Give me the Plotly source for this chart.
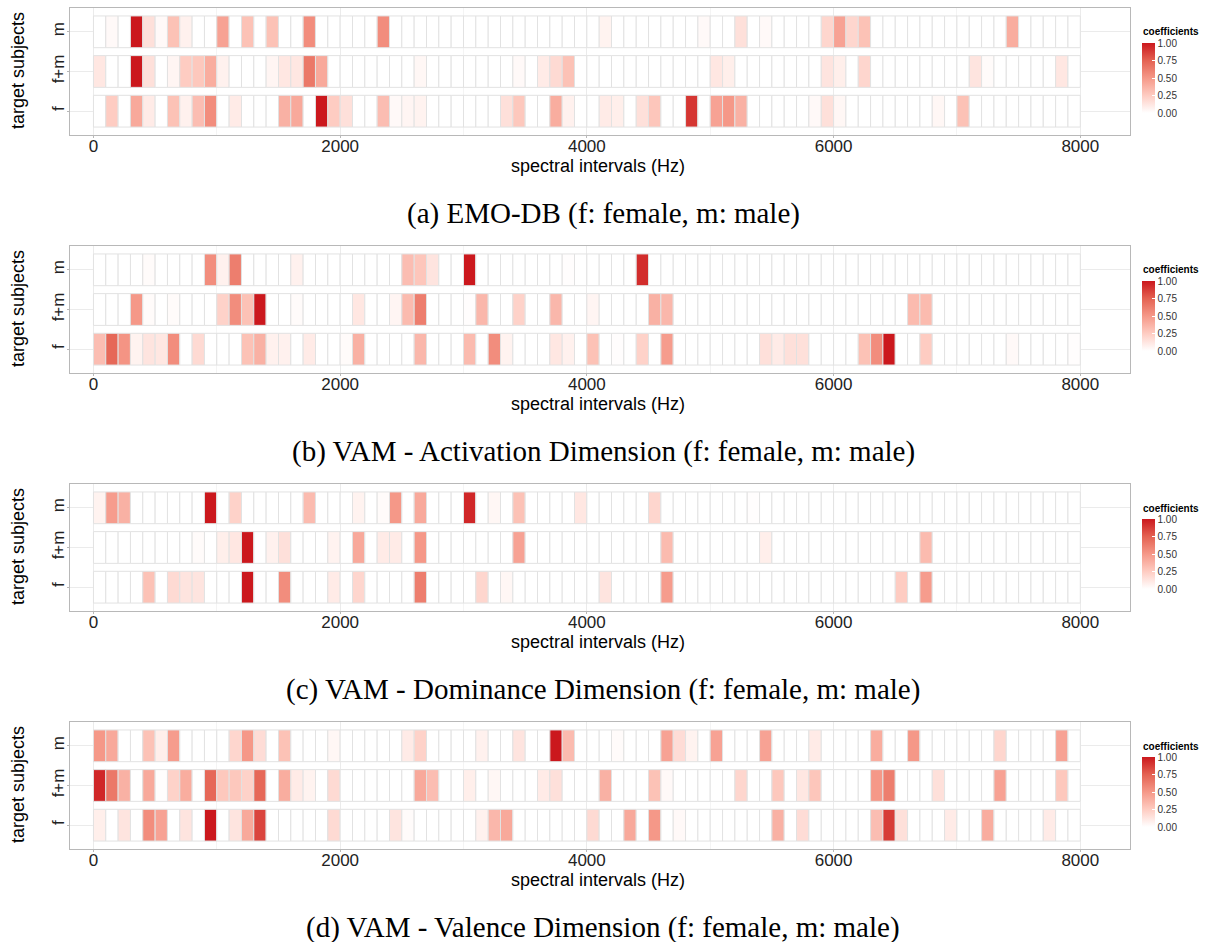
import plotly.graph_objects as go

W, H = 1207, 942

# spectral bins (centres, Hz) and target subject rows
bin_centres = [50 + 100 * k for k in range(80)]
row_labels = ["f", "f+m", "m"]
x_ticks = [0, 2000, 4000, 6000, 8000]
legend_ticks = [0.0, 0.25, 0.5, 0.75, 1.0]

# ---------------- (a) EMO-DB ----------------
A_m = [0, 0.03, 0, 1.0, 0.15, 0.03, 0.3, 0.07, 0, 0, 0.45, 0, 0.3, 0, 0.3, 0, 0, 0.55, 0, 0,
       0, 0, 0, 0.55, 0, 0, 0, 0, 0, 0, 0, 0, 0, 0, 0, 0, 0, 0, 0, 0,
       0, 0.06, 0, 0, 0, 0, 0, 0, 0, 0.03, 0, 0, 0.15, 0, 0.03, 0, 0, 0, 0, 0.2,
       0.45, 0.2, 0.3, 0, 0, 0, 0, 0, 0, 0, 0, 0, 0, 0, 0.4, 0, 0, 0, 0, 0]
A_fm = [0.12, 0, 0, 1.0, 0.15, 0, 0.05, 0.25, 0.27, 0.4, 0.07, 0, 0, 0, 0.05, 0.12, 0.12, 0.65, 0.42, 0,
        0, 0, 0, 0, 0, 0, 0.04, 0, 0, 0, 0, 0, 0, 0, 0.03, 0, 0.1, 0.18, 0.3, 0,
        0, 0, 0, 0, 0, 0, 0, 0, 0, 0, 0.12, 0.08, 0, 0, 0, 0, 0, 0, 0, 0.13,
        0.08, 0, 0.2, 0, 0, 0, 0, 0, 0, 0, 0, 0.13, 0.02, 0, 0, 0, 0, 0, 0.12, 0]
A_f = [0, 0.25, 0, 0.42, 0.1, 0, 0.3, 0.07, 0.32, 0.55, 0, 0.1, 0, 0, 0, 0.38, 0.42, 0, 1.0, 0.25,
       0.15, 0, 0, 0.32, 0.03, 0.05, 0.06, 0, 0, 0, 0, 0, 0, 0.15, 0.27, 0, 0, 0.4, 0.07, 0,
       0, 0.1, 0.08, 0, 0.15, 0.28, 0, 0, 0.9, 0, 0.45, 0.5, 0.38, 0, 0, 0, 0, 0, 0.03, 0.15,
       0.04, 0, 0, 0, 0, 0, 0, 0, 0.04, 0, 0.3, 0, 0, 0, 0, 0, 0, 0, 0, 0]

# ---------------- (b) VAM Activation ----------------
B_m = [0, 0, 0, 0, 0.02, 0, 0, 0, 0, 0.55, 0.07, 0.62, 0, 0, 0, 0, 0.07, 0, 0, 0,
       0, 0, 0, 0, 0, 0.32, 0.28, 0.13, 0, 0, 1.0, 0, 0, 0, 0, 0, 0, 0, 0.01, 0,
       0, 0, 0, 0, 0.93, 0, 0, 0, 0, 0, 0, 0, 0, 0, 0, 0, 0, 0, 0, 0,
       0, 0, 0, 0, 0, 0, 0, 0, 0, 0, 0, 0, 0, 0, 0, 0, 0, 0, 0, 0]
B_fm = [0, 0, 0, 0.5, 0.02, 0, 0.02, 0, 0, 0, 0.22, 0.55, 0.3, 1.0, 0, 0, 0.02, 0, 0, 0,
        0, 0.12, 0, 0, 0.05, 0.33, 0.62, 0, 0, 0, 0.01, 0.35, 0, 0, 0.22, 0, 0, 0.35, 0, 0,
        0.05, 0, 0, 0, 0, 0.38, 0.35, 0, 0, 0, 0, 0, 0, 0, 0, 0, 0, 0, 0, 0,
        0, 0, 0, 0, 0, 0, 0.33, 0.33, 0, 0, 0, 0, 0, 0, 0, 0, 0, 0, 0, 0]
B_f = [0.32, 0.72, 0.52, 0.06, 0.13, 0.12, 0.55, 0, 0.18, 0, 0, 0, 0.3, 0.38, 0.07, 0.07, 0, 0.1, 0, 0,
       0.02, 0.38, 0, 0, 0, 0, 0.35, 0, 0, 0, 0.33, 0, 0.55, 0.06, 0, 0, 0, 0.12, 0.07, 0,
       0.3, 0, 0.01, 0, 0.22, 0, 0.48, 0, 0, 0, 0, 0, 0, 0, 0.15, 0.1, 0.15, 0.15, 0, 0,
       0, 0, 0.3, 0.55, 1.0, 0, 0, 0.25, 0, 0, 0, 0, 0, 0, 0.03, 0, 0, 0, 0, 0.01]

# ---------------- (c) VAM Dominance ----------------
C_m = [0.06, 0.48, 0.38, 0, 0, 0, 0, 0, 0, 1.0, 0, 0.22, 0, 0, 0, 0, 0, 0.33, 0, 0,
       0, 0.06, 0, 0.02, 0.5, 0, 0.42, 0, 0, 0, 0.95, 0, 0.04, 0, 0.3, 0, 0, 0, 0, 0.12,
       0, 0, 0, 0, 0, 0.2, 0, 0, 0, 0, 0, 0, 0, 0.01, 0, 0, 0, 0, 0, 0,
       0, 0, 0, 0, 0, 0, 0, 0, 0, 0, 0, 0, 0, 0, 0, 0, 0, 0, 0, 0]
C_fm = [0, 0, 0, 0, 0, 0, 0, 0, 0.02, 0, 0.08, 0.12, 1.0, 0, 0.07, 0.15, 0, 0, 0, 0.06,
        0, 0.42, 0, 0.1, 0.1, 0, 0.5, 0, 0, 0, 0, 0, 0, 0, 0.45, 0, 0, 0, 0, 0,
        0, 0, 0, 0, 0, 0, 0.33, 0, 0, 0, 0, 0, 0, 0, 0.08, 0, 0, 0, 0, 0,
        0, 0, 0, 0, 0, 0, 0, 0.33, 0, 0, 0, 0, 0, 0, 0, 0, 0, 0, 0, 0]
C_f = [0, 0, 0, 0, 0.3, 0, 0.18, 0.13, 0.13, 0, 0, 0, 1.0, 0, 0, 0.55, 0, 0, 0, 0.1,
       0, 0.2, 0, 0, 0, 0, 0.62, 0, 0, 0, 0, 0.2, 0, 0.04, 0, 0, 0, 0, 0, 0,
       0, 0.13, 0, 0, 0, 0, 0.48, 0, 0, 0, 0, 0, 0, 0, 0, 0, 0, 0, 0, 0,
       0, 0, 0, 0, 0, 0.25, 0, 0.48, 0, 0, 0, 0, 0, 0, 0, 0, 0, 0, 0, 0]

# ---------------- (d) VAM Valence ----------------
D_m = [0.5, 0.42, 0, 0, 0.3, 0.08, 0.48, 0, 0, 0, 0, 0.2, 0.5, 0.17, 0, 0.3, 0, 0, 0, 0.04,
       0, 0, 0, 0, 0, 0.1, 0.22, 0, 0, 0, 0, 0.07, 0, 0, 0.13, 0, 0, 1.0, 0.33, 0,
       0, 0, 0.02, 0, 0, 0, 0.45, 0.17, 0.06, 0, 0.45, 0, 0, 0, 0.45, 0, 0, 0, 0.1, 0,
       0, 0, 0, 0.4, 0, 0, 0.5, 0, 0, 0, 0, 0, 0, 0.2, 0, 0, 0, 0, 0.45, 0]
D_fm = [0.95, 0.65, 0.38, 0, 0.42, 0.01, 0.22, 0.4, 0, 0.72, 0.27, 0.27, 0.22, 0.72, 0, 0.4, 0.1, 0.06, 0, 0.18,
        0, 0, 0, 0, 0, 0, 0.42, 0.32, 0, 0, 0.08, 0, 0.04, 0, 0, 0, 0.1, 0.15, 0, 0,
        0, 0.38, 0, 0, 0, 0.3, 0.03, 0, 0, 0, 0, 0, 0.2, 0, 0, 0.27, 0, 0.12, 0.28, 0,
        0, 0, 0, 0.5, 0.62, 0, 0, 0, 0.15, 0, 0, 0, 0, 0.45, 0, 0, 0, 0, 0.27, 0]
D_f = [0.08, 0, 0.13, 0, 0.55, 0.45, 0, 0.13, 0, 1.0, 0, 0.13, 0.42, 0.85, 0, 0, 0, 0, 0, 0.18,
       0, 0, 0, 0, 0.13, 0.02, 0, 0, 0, 0, 0, 0.07, 0.35, 0.42, 0, 0, 0, 0, 0, 0,
       0.18, 0, 0, 0.42, 0, 0.5, 0, 0.03, 0, 0, 0, 0, 0, 0, 0, 0.38, 0, 0.17, 0, 0,
       0, 0, 0, 0.32, 0.88, 0.15, 0, 0, 0, 0.1, 0, 0, 0.4, 0, 0, 0, 0, 0.1, 0, 0]

captions = [
    "(a) EMO-DB (f: female, m: male)",
    "(b) VAM - Activation Dimension (f: female, m: male)",
    "(c) VAM - Dominance Dimension (f: female, m: male)",
    "(d) VAM - Valence Dimension (f: female, m: male)",
]
panels = [(A_f, A_fm, A_m), (B_f, B_fm, B_m), (C_f, C_fm, C_m), (D_f, D_fm, D_m)]

# ---------------- styling ----------------
colorscale = [[0.0, "#FFFFFF"], [0.25, "rgb(254,204,194)"], [0.5, "rgb(245,152,136)"],
              [0.75, "rgb(228,98,82)"], [1.0, "#CB181D"]]
SANS = "Liberation Sans, Arial, sans-serif"
SERIF = "Liberation Serif, Times New Roman, serif"
GRID = "#EBEBEB"
BORDER = "#B8B8B8"
TILE_LINE = "#E2E2E2"

tops = [8, 246, 484, 722]
PH = 127
PX0, PX1 = 70, 1130


def py(p):
    return 1 - p / H


fig = go.Figure()
layout = dict(
    width=W, height=H, margin=dict(l=0, r=0, t=0, b=0),
    paper_bgcolor="white", plot_bgcolor="white", barmode="overlay",
    showlegend=False, annotations=[],
)

for i, (top, rows) in enumerate(zip(tops, panels)):
    n = i + 1
    xs = "x" if n == 1 else f"x{n}"
    ys = "y" if n == 1 else f"y{n}"
    ca = "coloraxis" if n == 1 else f"coloraxis{n}"
    for r, vals in enumerate(rows):
        fig.add_trace(go.Bar(
            x=bin_centres, y=[0.8] * len(vals), base=[r + 1 - 0.4] * len(vals),
            width=[100] * len(vals),
            marker=dict(color=vals, coloraxis=ca, line=dict(color=TILE_LINE, width=1)),
            xaxis=xs, yaxis=ys, hoverinfo="skip",
        ))
    layout["xaxis" if n == 1 else f"xaxis{n}"] = dict(
        domain=[PX0 / W, PX1 / W], anchor=ys, range=[-190, 8403],
        tickvals=x_ticks, ticktext=[str(t) for t in x_ticks],
        tickfont=dict(family=SANS, size=17, color="#222222"),
        showline=True, mirror=True, linecolor=BORDER, linewidth=1,
        ticks="outside", ticklen=2, tickcolor=BORDER, ticklabelstandoff=-6,
        showgrid=True, gridcolor=GRID, gridwidth=1, zeroline=False,
        minor=dict(tickvals=[1000, 3000, 5000, 7000], showgrid=True, gridcolor="#F4F4F4", ticks=""),
    )
    layout["yaxis" if n == 1 else f"yaxis{n}"] = dict(
        domain=[py(top + PH), py(top)], anchor=xs, range=[0.4, 3.6],
        tickvals=[1, 2, 3], ticktext=row_labels, tickangle=-90,
        tickfont=dict(family=SANS, size=17, color="#222222"),
        showline=True, mirror=True, linecolor=BORDER, linewidth=1,
        ticks="outside", ticklen=2, tickcolor=BORDER, ticklabelstandoff=-4,
        showgrid=True, gridcolor=GRID, gridwidth=1, zeroline=False,
    )
    layout[ca] = dict(
        cmin=0, cmax=1, colorscale=colorscale,
        colorbar=dict(
            x=1142 / W, xanchor="left", y=py(top + 35), yanchor="top",
            len=70, lenmode="pixels", thickness=13, thicknessmode="pixels",
            outlinewidth=0, xpad=0, ypad=0,
            tickvals=legend_ticks, ticktext=[f"{t:.2f}" for t in legend_ticks],
            tickfont=dict(family=SANS, size=10, color="#333333"),
            ticks="inside", ticklen=3, tickcolor="white",
        ),
    )
    ann = layout["annotations"]
    ann.append(dict(text="<b>coefficients</b>", x=1141 / W, y=py(top + 24), xref="paper", yref="paper",
                    xanchor="left", yanchor="middle", showarrow=False,
                    font=dict(family=SANS, size=10, color="black")))
    ann.append(dict(text="spectral intervals (Hz)", x=598 / W, y=py(top + 158), xref="paper", yref="paper",
                    xanchor="center", yanchor="middle", showarrow=False,
                    font=dict(family=SANS, size=18, color="black")))
    ann.append(dict(text="target subjects", x=18 / W, y=py(top + 63), xref="paper", yref="paper",
                    xanchor="center", yanchor="middle", textangle=-90, showarrow=False,
                    font=dict(family=SANS, size=18, color="black")))
    ann.append(dict(text=captions[i], x=603 / W, y=py(top + 205), xref="paper", yref="paper",
                    xanchor="center", yanchor="middle", showarrow=False,
                    font=dict(family=SERIF, size=29, color="black")))

fig.update_layout(**layout)
fig.write_html("out.html")
